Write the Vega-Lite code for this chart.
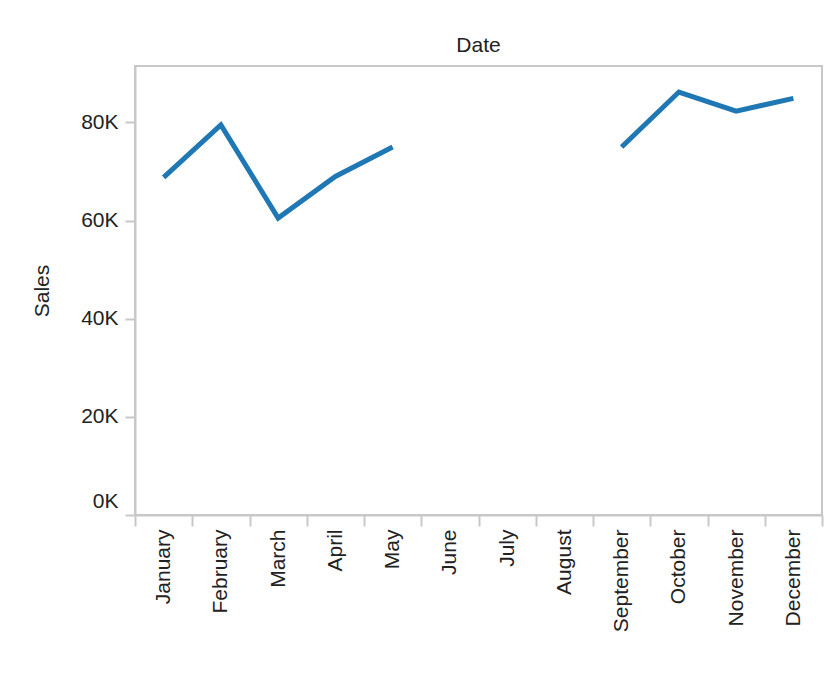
{
  "$schema": "https://vega.github.io/schema/vega-lite/v6.json",
  "width": 687,
  "height": 449,
  "autosize": {"type": "none"},
  "padding": {"left": 135, "top": 66, "right": 3, "bottom": 166},
  "background": "white",
  "config": {
    "font": "Liberation Sans",
    "view": {"stroke": "#c8c8c8", "strokeWidth": 2},
    "axis": {"labelFont": "Liberation Sans", "titleFont": "Liberation Sans", "labelColor": "#222222", "titleColor": "#222222", "titleFontWeight": "normal"}
  },
  "title": {"text": "Date", "anchor": "middle", "frame": "group", "fontSize": 21, "fontWeight": "normal", "color": "#222222", "font": "Liberation Sans", "offset": 10},
  "data": {
    "values": [
      {"Month": "January", "Sales": 68800},
      {"Month": "February", "Sales": 79500},
      {"Month": "March", "Sales": 60500},
      {"Month": "April", "Sales": 69000},
      {"Month": "May", "Sales": 75000},
      {"Month": "June", "Sales": null},
      {"Month": "July", "Sales": null},
      {"Month": "August", "Sales": null},
      {"Month": "September", "Sales": 75000},
      {"Month": "October", "Sales": 86200},
      {"Month": "November", "Sales": 82300},
      {"Month": "December", "Sales": 84900}
    ]
  },
  "mark": {"type": "line", "color": "#1f77b4", "strokeWidth": 5, "invalid": "break-paths-show-domains", "strokeJoin": "miter"},
  "encoding": {
    "x": {
      "field": "Month",
      "type": "ordinal",
      "scale": {"type": "band", "domain": ["January", "February", "March", "April", "May", "June", "July", "August", "September", "October", "November", "December"], "paddingInner": 0, "paddingOuter": 0},
      "axis": {"title": null, "labelAngle": -90, "labelFontSize": 21, "tickBand": "extent", "tickSize": 11, "tickWidth": 2, "tickColor": "#c8c8c8", "domainColor": "#c8c8c8", "domainWidth": 2, "labelPadding": 3, "grid": false}
    },
    "y": {
      "field": "Sales",
      "type": "quantitative",
      "scale": {"domain": [0, 91500], "nice": false, "zero": true},
      "axis": {"title": "Sales", "titleFontSize": 21, "labelFontSize": 21, "values": [0, 20000, 40000, 60000, 80000], "labelExpr": "format(datum.value/1000, 'd') + 'K'", "labelFlush": true, "labelFlushOffset": -4, "tickSize": 10, "tickWidth": 2, "tickColor": "#c8c8c8", "domainColor": "#c8c8c8", "domainWidth": 2, "labelPadding": 7, "titlePadding": 28, "grid": false}
    }
  }
}
